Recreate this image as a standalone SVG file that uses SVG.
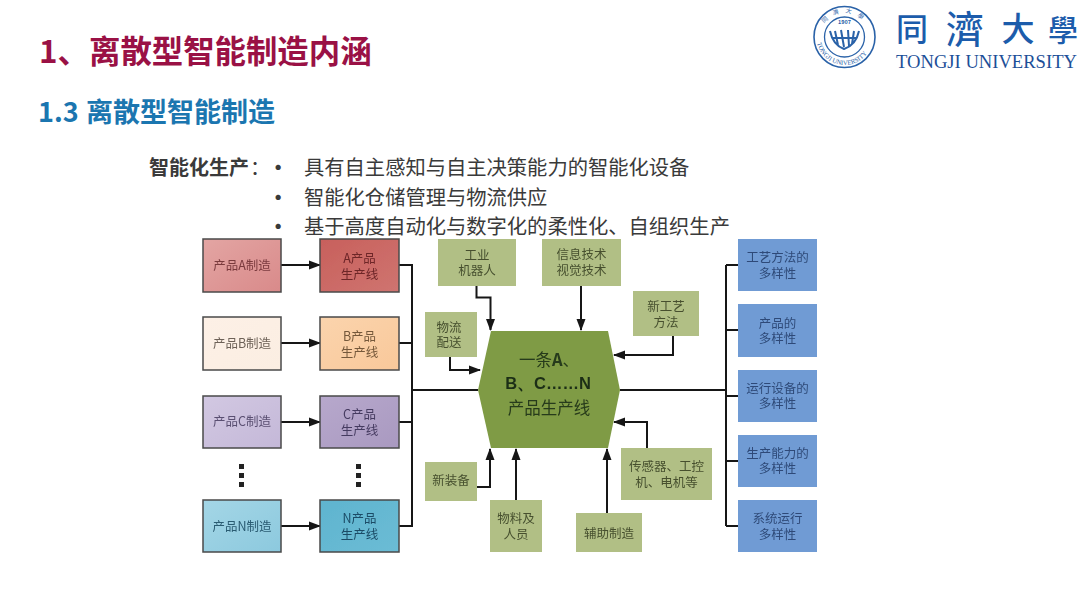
<svg xmlns="http://www.w3.org/2000/svg" width="1080" height="608" viewBox="0 0 1080 608">
<style>
text{font-family:"Noto Sans CJK SC","Noto Sans",sans-serif}
.t1{font-size:31.4px;font-weight:700;fill:#9a1145}
.t2{font-size:27px;font-weight:700;fill:#1b76b0}
.b{font-size:20.3px;fill:#3a3a3a}
.bb{font-size:20px;font-weight:700;fill:#3a3a3a}
.bu{font-size:20.3px;font-weight:700;fill:#3a3a3a}
.n{font-size:12.5px;text-anchor:middle}
.box{stroke:#4a4a4a;stroke-width:1.5}
.g{fill:#b1bf85}
.bl{fill:#6f9bd4}
.gt{fill:#47502f}
.bt{fill:#2f4a78}
.c{fill:none;stroke:#151515;stroke-width:2}
.a{fill:none;stroke:#151515;stroke-width:2;marker-end:url(#ah)}
.dot{fill:#222}
.soft{filter:url(#blur)}
</style>
<defs>
<filter id="blur" x="-5%" y="-5%" width="110%" height="110%"><feGaussianBlur stdDeviation="0.35"/></filter>
<marker id="ah" viewBox="0 0 12 10" refX="11" refY="5" markerWidth="12" markerHeight="10" markerUnits="userSpaceOnUse" orient="auto"><path d="M0 0.5L12 5L0 9.5Z" fill="#151515"/></marker>
<linearGradient id="ga1" x1="0" y1="0" x2="1" y2="1"><stop offset="0" stop-color="#e3a5a3"/><stop offset="1" stop-color="#d98a8a"/></linearGradient>
<linearGradient id="ga2" x1="0" y1="0" x2="1" y2="1"><stop offset="0" stop-color="#c8605c"/><stop offset="1" stop-color="#cf7470"/></linearGradient>
<linearGradient id="gb1" x1="0" y1="0" x2="1" y2="1"><stop offset="0" stop-color="#fdf0e6"/><stop offset="1" stop-color="#fbeee2"/></linearGradient>
<linearGradient id="gb2" x1="0" y1="0" x2="1" y2="1"><stop offset="0" stop-color="#fbd4ad"/><stop offset="1" stop-color="#f9c89a"/></linearGradient>
<linearGradient id="gc1" x1="0" y1="0" x2="1" y2="1"><stop offset="0" stop-color="#d2c8e2"/><stop offset="1" stop-color="#c4b8d8"/></linearGradient>
<linearGradient id="gc2" x1="0" y1="0" x2="1" y2="1"><stop offset="0" stop-color="#b7a8cc"/><stop offset="1" stop-color="#a999c0"/></linearGradient>
<linearGradient id="gn1" x1="0" y1="0" x2="1" y2="1"><stop offset="0" stop-color="#a4d6e6"/><stop offset="1" stop-color="#8cc9de"/></linearGradient>
<linearGradient id="gn2" x1="0" y1="0" x2="1" y2="1"><stop offset="0" stop-color="#5fb4cf"/><stop offset="1" stop-color="#6bbcd5"/></linearGradient>
<path id="sealTop" d="M820.500 37A24 24 0 0 1 868.500 37"/>
<path id="sealBot" d="M816.500 37A28 28 0 0 0 872.500 37"/>
</defs>
<rect width="1080" height="608" fill="#fff"/>

<g id="titles">
<text class="t1" x="39" y="63">1、</text>
<text class="t1" x="89" y="63">离散型智能制造内涵</text>
<text class="t2" x="38" y="122">1.3</text>
<text class="t2" x="86" y="122">离散型智能制造</text>
</g>

<g id="logo">
<circle cx="844.500" cy="37" r="30.500" fill="none" stroke="#2a62a8" stroke-width="1.600"/>
<circle cx="844.500" cy="37" r="20" fill="none" stroke="#2a62a8" stroke-width="1.300"/>
<text font-size="6" fill="#2a62a8" letter-spacing="6"><textPath href="#sealTop" startOffset="14">同濟大學</textPath></text>
<text font-size="6.600" fill="#2a62a8" style="font-family:'Liberation Serif',serif"><textPath href="#sealBot" startOffset="6">TONGJI UNIVERSITY</textPath></text>
<text x="844.500" y="24" font-size="5.500" text-anchor="middle" fill="#2a62a8" font-weight="700">1907</text>
<path d="M830 31Q833 45 844 49Q856 45 859 31M835 31L838 45M841 30L844 47M848 30L849 46M854 31L852 44M833 38L856 38" fill="none" stroke="#2a62a8" stroke-width="2"/>
<text x="912" y="41" font-size="32" font-weight="500" text-anchor="middle" fill="#1c5cab">同</text>
<text x="965" y="43" font-size="38" font-weight="500" text-anchor="middle" fill="#1c5cab">濟</text>
<text x="1018" y="41" font-size="33" font-weight="500" text-anchor="middle" fill="#1c5cab">大</text>
<text x="1063" y="41" font-size="30" font-weight="500" text-anchor="middle" fill="#1c5cab">學</text>
<text x="896" y="68" font-size="18.600" fill="#1c4f98" style="font-family:'Liberation Serif',serif">TONGJI UNIVERSITY</text>
</g>

<g id="intro">
<text class="bb" x="149" y="175">智能化生产</text><text class="b" x="250" y="175">：</text>
<text class="bu" x="268" y="175">•</text><text class="b" x="304" y="175">具有自主感知与自主决策能力的智能化设备</text>
<text class="bu" x="268" y="205">•</text><text class="b" x="304" y="205">智能化仓储管理与物流供应</text>
<text class="bu" x="268" y="234">•</text><text class="b" x="304" y="234">基于高度自动化与数字化的柔性化、自组织生产</text>
</g>

<g id="connectors" class="soft">
<path class="a" d="M281 265H320"/>
<path class="a" d="M281 343H320"/>
<path class="a" d="M281 422H320"/>
<path class="a" d="M281 526H320"/>
<path class="c" d="M399 265H412V526H399M399 343H412M399 422H412M412 390H478"/>
<path class="c" d="M620 390H726M726 265V526M726 265H738M726 330H738M726 396H738M726 461H738M726 526H738"/>
<path class="a" d="M476.500 286V297.500H490.500V330"/>
<path class="a" d="M581 286V330"/>
<path class="a" d="M673 336V355H614"/>
<path class="a" d="M450 357V370H480"/>
<path class="a" d="M477 487H490V449"/>
<path class="a" d="M516 500V449"/>
<path class="a" d="M607 513V449"/>
<path class="a" d="M647 448V422H614"/>
</g>

<g class="soft">
<g id="node-a1"><rect class="box" x="203" y="239" width="78" height="53" fill="url(#ga1)"/><text class="n" x="242" y="270" fill="#7a3a3e">产品A制造</text></g>
<g id="node-b1"><rect class="box" x="203" y="317" width="78" height="53" fill="url(#gb1)"/><text class="n" x="242" y="348" fill="#6e6258">产品B制造</text></g>
<g id="node-c1"><rect class="box" x="203" y="396" width="78" height="52" fill="url(#gc1)"/><text class="n" x="242" y="426" fill="#5a4f72">产品C制造</text></g>
<g id="node-n1"><rect class="box" x="203" y="500" width="78" height="52" fill="url(#gn1)"/><text class="n" x="242" y="531" fill="#2a5b72">产品N制造</text></g>

<g id="node-a2"><rect class="box" x="320" y="239" width="79" height="53" fill="url(#ga2)"/><text class="n" fill="#6d2528"><tspan x="359.500" y="263">A产品</tspan><tspan x="359.500" y="279">生产线</tspan></text></g>
<g id="node-b2"><rect class="box" x="320" y="317" width="79" height="53" fill="url(#gb2)"/><text class="n" fill="#75583a"><tspan x="359.500" y="341">B产品</tspan><tspan x="359.500" y="357">生产线</tspan></text></g>
<g id="node-c2"><rect class="box" x="320" y="396" width="79" height="52" fill="url(#gc2)"/><text class="n" fill="#453a60"><tspan x="359.500" y="419">C产品</tspan><tspan x="359.500" y="435">生产线</tspan></text></g>
<g id="node-n2"><rect class="box" x="320" y="500" width="79" height="52" fill="url(#gn2)"/><text class="n" fill="#1b4b66"><tspan x="359.500" y="523">N产品</tspan><tspan x="359.500" y="539">生产线</tspan></text></g>

<g id="dots-left"><rect class="dot" x="239" y="464" width="5" height="5"/><rect class="dot" x="239" y="473" width="5" height="5"/><rect class="dot" x="239" y="482" width="5" height="5"/></g>
<g id="dots-right"><rect class="dot" x="356" y="464" width="5" height="5"/><rect class="dot" x="356" y="473" width="5" height="5"/><rect class="dot" x="356" y="482" width="5" height="5"/></g>

<g id="node-robot"><rect class="g" x="438" y="239" width="78" height="47"/><text class="n gt"><tspan x="477" y="260">工业</tspan><tspan x="477" y="275">机器人</tspan></text></g>
<g id="node-info"><rect class="g" x="542" y="239" width="79" height="47"/><text class="n gt"><tspan x="581.500" y="259">信息技术</tspan><tspan x="581.500" y="275">视觉技术</tspan></text></g>
<g id="node-craft"><rect class="g" x="633" y="291" width="66" height="45"/><text class="n gt"><tspan x="666" y="311">新工艺</tspan><tspan x="666" y="327">方法</tspan></text></g>
<g id="node-logistics"><rect class="g" x="425" y="312" width="52" height="45"/><text class="n gt"><tspan x="449" y="332">物流</tspan><tspan x="449" y="347">配送</tspan></text></g>
<g id="node-equip"><rect class="g" x="425" y="462" width="52" height="39"/><text class="n gt" x="451" y="485">新装备</text></g>
<g id="node-material"><rect class="g" x="490" y="500" width="52" height="52"/><text class="n gt"><tspan x="516" y="523">物料及</tspan><tspan x="516" y="539">人员</tspan></text></g>
<g id="node-aux"><rect class="g" x="576" y="513" width="66" height="39"/><text class="n gt" x="609" y="538">辅助制造</text></g>
<g id="node-sensor"><rect class="g" x="621" y="448" width="91" height="52"/><text class="n gt"><tspan x="666.500" y="471">传感器、工控</tspan><tspan x="666.500" y="487">机、电机等</tspan></text></g>

<g id="node-core"><polygon points="491,331 608,331 620,390 608,448 491,448 478,390" fill="#7f9b45"/>
<text font-size="16.500" text-anchor="middle" fill="#263a1a"><tspan x="549" y="366">一条<tspan font-weight="700">A</tspan>、</tspan><tspan x="548" y="389" font-weight="700" style="font-family:'Liberation Sans',sans-serif" fill="#1d2f18">B、C……N</tspan><tspan x="549" y="414">产品生产线</tspan></text></g>

<g id="node-r1"><rect class="bl" x="738" y="239" width="79" height="52"/><text class="n bt"><tspan x="777.500" y="262">工艺方法的</tspan><tspan x="777.500" y="278">多样性</tspan></text></g>
<g id="node-r2"><rect class="bl" x="738" y="304" width="79" height="53"/><text class="n bt"><tspan x="777.500" y="328">产品的</tspan><tspan x="777.500" y="343">多样性</tspan></text></g>
<g id="node-r3"><rect class="bl" x="738" y="370" width="79" height="52"/><text class="n bt"><tspan x="777.500" y="393">运行设备的</tspan><tspan x="777.500" y="408">多样性</tspan></text></g>
<g id="node-r4"><rect class="bl" x="738" y="435" width="79" height="52"/><text class="n bt"><tspan x="777.500" y="458">生产能力的</tspan><tspan x="777.500" y="473">多样性</tspan></text></g>
<g id="node-r5"><rect class="bl" x="738" y="500" width="79" height="52"/><text class="n bt"><tspan x="777.500" y="523">系统运行</tspan><tspan x="777.500" y="539">多样性</tspan></text></g>
</g>
</svg>
